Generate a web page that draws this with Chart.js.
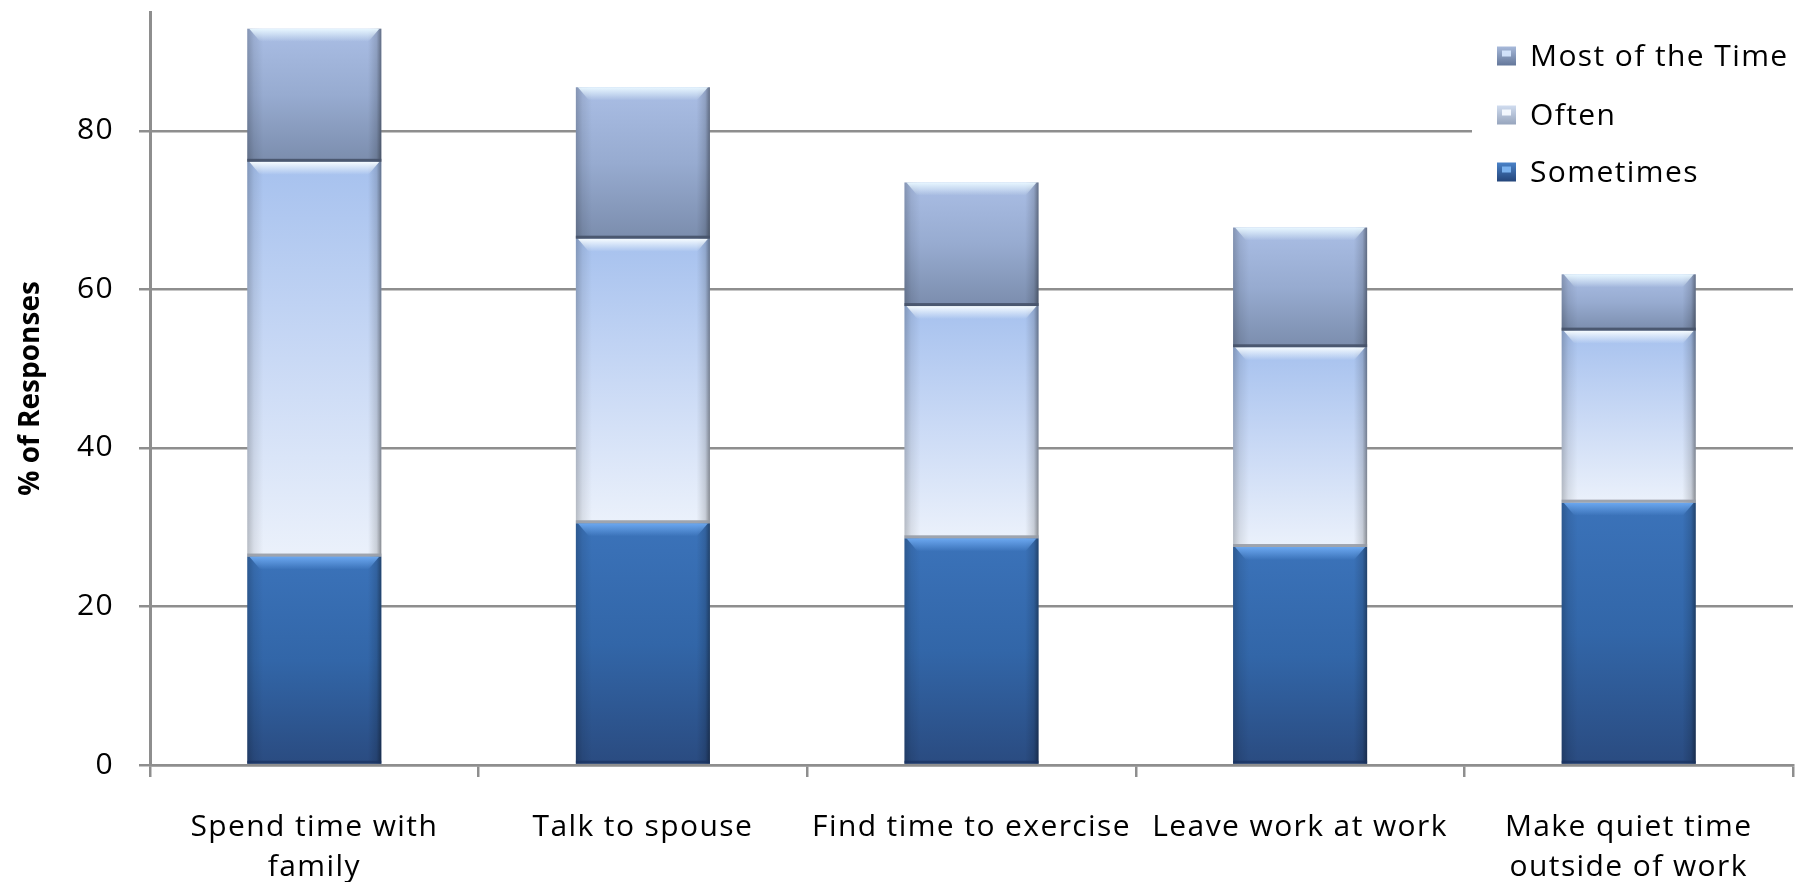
<!DOCTYPE html>
<html>
<head>
<meta charset="utf-8">
<script src="https://cdn.jsdelivr.net/npm/chart.js@4.4.0/dist/chart.umd.min.js"></script>
<style>
  html, body { margin: 0; padding: 0; background: #fff; }
  #contenedor { width: 1796px; height: 882px; }
</style>
</head>
<body>
<div id="contenedor"><canvas id="grafico"></canvas></div>
<script>
// datos
const categorias = [['Spend time with', 'family'], 'Talk to spouse', 'Find time to exercise', 'Leave work at work', ['Make quiet time', 'outside of work']];
const nombresSeries = ['Sometimes', 'Often', 'Most of the Time'];
const sometimes = [26.3, 30.5, 28.6, 27.5, 33.1];
const often = [49.8, 35.9, 29.3, 25.2, 21.7];
const mostOfTheTime = [16.8, 19.1, 15.6, 15.1, 7.1];
const ticksY = [0, 20, 40, 60, 80];
const maxY = 95;

const series = [sometimes, often, mostOfTheTime];
const gris = '#8e8e8e';
const espaciado = '1.4px';

// colores de cada serie (arriba -> abajo del segmento)
const estilos = [
  { paradas: ['#3b73ba', '#3266a8', '#2a4b80'], brillo: 'rgba(108,168,240,1)', borde: 'rgba(25,50,95,0.7)',
    cajaA: '#4a82c8', cajaB: '#24457a', luz: 'rgba(130,185,245,0.9)' },
  { paradas: ['#a6c1ee', '#c9d9f5', '#ebf1fb'], brillo: 'rgba(246,252,255,1)', borde: 'rgba(150,155,165,0.9)',
    cajaA: '#d0dcef', cajaB: '#97a5bd', luz: 'rgba(245,250,255,0.95)' },
  { paradas: ['#aabee5', '#97abd0', '#7b8dad'], brillo: 'rgba(232,247,255,1)', borde: 'rgba(70,82,105,0.9)',
    cajaA: '#a7b9da', cajaB: '#64779a', luz: 'rgba(215,232,255,0.9)' }
];

function degradado(ctx, serie) {
  const chart = ctx.chart;
  const est = estilos[serie];
  if (!chart.chartArea || ctx.type !== 'data') return est.paradas[1];
  const y = chart.scales.y;
  let base = 0;
  for (let s = 0; s < serie; s++) base += series[s][ctx.dataIndex];
  const yArriba = y.getPixelForValue(base + series[serie][ctx.dataIndex]);
  const yAbajo = y.getPixelForValue(base);
  const g = chart.ctx.createLinearGradient(0, yArriba, 0, yAbajo);
  g.addColorStop(0, est.paradas[0]);
  g.addColorStop(0.5, est.paradas[1]);
  g.addColorStop(1, est.paradas[2]);
  return g;
}

// letras un poco mas separadas, como en el original
const espaciadoTexto = {
  id: 'espaciadoTexto',
  beforeLayout(chart) { chart.ctx.letterSpacing = espaciado; },
  beforeDraw(chart) { chart.ctx.letterSpacing = espaciado; }
};

// sombras laterales, bisel arriba y borde abajo de cada segmento
const efectoBarras = {
  id: 'efectoBarras',
  afterDatasetsDraw(chart) {
    const c = chart.ctx;
    c.save();
    chart.data.datasets.forEach((ds, i) => {
      const est = estilos[i];
      chart.getDatasetMeta(i).data.forEach(bar => {
        const p = bar.getProps(['x', 'y', 'base', 'width'], true);
        const l = p.x - p.width / 2, r = p.x + p.width / 2;
        const t = Math.min(p.y, p.base), b = Math.max(p.y, p.base);
        const h = b - t;
        const lados = c.createLinearGradient(l, 0, r, 0);
        lados.addColorStop(0, 'rgba(0,0,0,0.22)');
        lados.addColorStop(0.05, 'rgba(0,0,0,0.08)');
        lados.addColorStop(0.12, 'rgba(0,0,0,0)');
        lados.addColorStop(0.9, 'rgba(0,0,0,0)');
        lados.addColorStop(0.965, 'rgba(0,0,0,0.14)');
        lados.addColorStop(1, 'rgba(0,0,0,0.42)');
        c.fillStyle = lados;
        c.fillRect(l, t, r - l, h);

        const bv = Math.min(13, h / 3);
        const arriba = c.createLinearGradient(0, t, 0, t + bv);
        arriba.addColorStop(0, est.brillo);
        arriba.addColorStop(0.45, est.brillo.replace(',1)', ',0.55)'));
        arriba.addColorStop(1, est.brillo.replace(',1)', ',0)'));
        c.fillStyle = arriba;
        c.beginPath();
        c.moveTo(l + 2, t);
        c.lineTo(r - 2, t);
        c.lineTo(r - bv, t + bv);
        c.lineTo(l + bv, t + bv);
        c.closePath();
        c.fill();

        c.fillStyle = est.borde;
        c.fillRect(l, b - 3, r - l, 3);
      });
    });
    c.restore();
  }
};

// leyenda arriba a la derecha, encima de la grilla
const leyenda = {
  id: 'leyenda',
  afterDraw(chart) {
    const c = chart.ctx;
    c.save();
    c.fillStyle = '#fff';
    c.fillRect(1472, 14, 324, 186);
    const filas = [56, 115, 172];
    const s = 19;
    [2, 1, 0].forEach((serie, k) => {
      const est = estilos[serie];
      const x = 1497, y = filas[k] - s / 2;
      const g = c.createLinearGradient(0, y, 0, y + s);
      g.addColorStop(0, est.cajaA);
      g.addColorStop(1, est.cajaB);
      c.fillStyle = g;
      c.fillRect(x, y, s, s);
      c.fillStyle = est.luz;
      c.fillRect(x + 5, y + 4, 9, 6);
      c.fillStyle = '#000';
      c.font = '30px "Open Sans"';
      c.textBaseline = 'middle';
      c.textAlign = 'left';
      c.fillText(chart.data.datasets[serie].label, 1530, filas[k] + 1);
    });
    c.restore();
  }
};

Chart.defaults.font.family = '"Open Sans", sans-serif';
Chart.defaults.color = '#000';

new Chart(document.getElementById('grafico'), {
  type: 'bar',
  data: {
    labels: categorias,
    datasets: series.map((valores, i) => ({
      label: nombresSeries[i],
      data: valores,
      backgroundColor: (ctx) => degradado(ctx, i),
      borderWidth: 0,
      barPercentage: 0.408,
      categoryPercentage: 1
    }))
  },
  options: {
    responsive: true,
    maintainAspectRatio: false,
    animation: false,
    layout: { padding: { top: 12, right: 3, bottom: 0, left: 0 } },
    plugins: {
      legend: { display: false },
      tooltip: { enabled: false }
    },
    scales: {
      x: {
        stacked: true,
        afterFit(s) { s.height = 117; s.paddingLeft = 0; s.paddingRight = 0; },
        ticks: { padding: 31, maxRotation: 0, autoSkip: false, font: { size: 30, lineHeight: 1.33 } },
        grid: { offset: true, drawOnChartArea: false, color: gris, lineWidth: 2.5, tickLength: 12 },
        border: { color: gris, width: 2.5 }
      },
      y: {
        stacked: true,
        min: 0,
        max: maxY,
        afterBuildTicks(s) { s.ticks = ticksY.map(v => ({ value: v })); },
        afterFit(s) { s.width = 150; s.paddingTop = 0; s.paddingBottom = 0; },
        afterUpdate(s) {
          // el titulo va sin espaciado extra
          if (!s._tituloListo) {
            const dibujarTitulo = s.drawTitle;
            s.drawTitle = function () {
              const c = this.ctx;
              const antes = c.letterSpacing;
              c.letterSpacing = '0px';
              dibujarTitulo.call(this);
              c.letterSpacing = antes;
            };
            s._tituloListo = true;
          }
        },
        ticks: { padding: 25, font: { size: 30, lineHeight: 0.8 } },
        grid: { color: gris, lineWidth: 2.5, tickLength: 11 },
        border: { color: gris, width: 3 },
        title: {
          display: true,
          text: '% of Responses',
          font: { family: '"Liberation Sans Narrow", "Open Sans", sans-serif', weight: 'bold', size: 28, lineHeight: 1 },
          padding: { top: 17, bottom: 0 }
        }
      }
    }
  },
  plugins: [espaciadoTexto, efectoBarras, leyenda]
});
</script>
</body>
</html>
